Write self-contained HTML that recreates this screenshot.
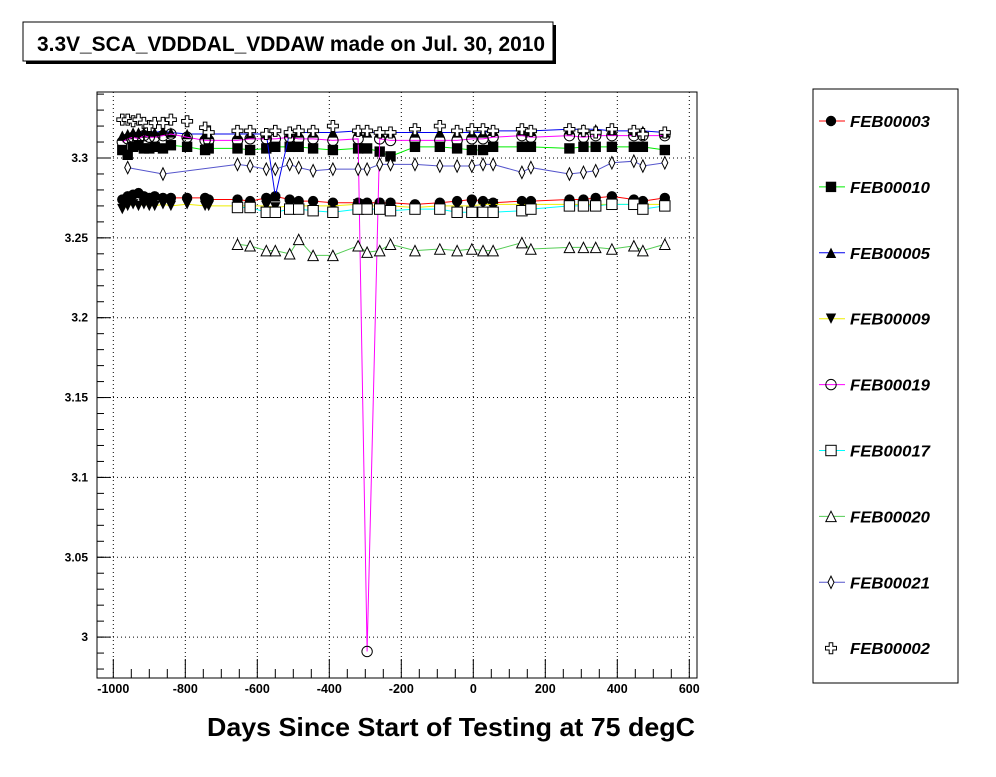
<!DOCTYPE html>
<html><head><meta charset="utf-8">
<style>
body{margin:0;background:#fff;width:996px;height:772px;overflow:hidden;font-family:"Liberation Sans",sans-serif}
</style></head>
<body>
<svg id="chart" width="996" height="772" xmlns="http://www.w3.org/2000/svg" font-family="Liberation Sans, sans-serif">
<rect x="0" y="0" width="996" height="772" fill="#fff"/>
<g>
<rect x="26" y="25" width="530" height="39" fill="#000"/>
<rect x="23" y="22" width="530" height="39" fill="#fff" stroke="#000" stroke-width="1"/>
<text x="37" y="51" font-size="21" font-weight="bold" textLength="508" lengthAdjust="spacingAndGlyphs">3.3V_SCA_VDDDAL_VDDAW made on Jul. 30, 2010</text>
</g>
<rect x="97" y="92" width="600" height="586" fill="none" stroke="#000" stroke-width="1"/>
<g id="grid"></g>
<g id="axes"></g>
<g id="series"></g>
<text x="207" y="736" font-size="26" font-weight="bold" textLength="488" lengthAdjust="spacingAndGlyphs">Days Since Start of Testing at 75 degC</text>
<g id="legend">
<rect x="813" y="89" width="145" height="594" fill="#fff" stroke="#000" stroke-width="1"/>
</g>
</svg>
<script>
const xTicks = [-1000,-800,-600,-400,-200,0,200,400,600];
const yTicks = [3.0,3.05,3.1,3.15,3.2,3.25,3.3];
const yTickLabels = ["3","3.05","3.1","3.15","3.2","3.25","3.3"];
const seriesNames = ["FEB00003","FEB00010","FEB00005","FEB00009","FEB00019","FEB00017","FEB00020","FEB00021","FEB00002"];
const seriesColors = ["#ff0000","#00ee00","#0000ee","#eeee00","#ff00ff","#00ffff","#55cc55","#5555cc","none"];
const seriesMarkers = ["circle","square","tri","tridown","ocircle","osquare","otri","odiamond","cross"];
const days = [-975,-960,-945,-930,-915,-900,-885,-862,-840,-795,-745,-735,-655,-620,-575,-550,-510,-485,-445,-390,-320,-295,-260,-230,-162,-93,-45,-4,27,55,135,160,267,306,340,385,446,471,532];
const v03 = [3.274,3.276,3.277,3.278,3.276,3.275,3.276,3.275,3.275,3.275,3.275,3.274,3.274,3.273,3.275,3.276,3.274,3.273,3.273,3.272,3.272,3.272,3.272,3.272,3.271,3.272,3.273,3.274,3.273,3.272,3.273,3.273,3.274,3.274,3.275,3.276,3.274,3.273,3.275];
const v10 = [3.305,3.302,3.307,3.308,3.306,3.306,3.307,3.306,3.308,3.307,3.305,3.306,3.306,3.305,3.306,3.307,3.307,3.307,3.306,3.305,3.306,3.306,3.304,3.301,3.307,3.307,3.306,3.305,3.305,3.307,3.307,3.307,3.306,3.307,3.307,3.307,3.307,3.307,3.305];
const v05 = [3.314,3.315,3.316,3.316,3.316,3.317,3.316,3.317,3.316,3.315,3.315,3.315,3.315,3.315,3.315,3.276,3.316,3.316,3.316,3.316,3.317,3.316,3.316,3.316,3.316,3.316,3.316,3.316,3.316,3.317,3.317,3.317,3.318,3.318,3.318,3.317,3.317,3.317,3.316];
const v09 = [3.268,3.270,3.271,3.270,3.271,3.270,3.270,3.271,3.270,3.271,3.270,3.270,3.270,3.270,3.270,3.269,3.270,3.270,3.270,3.270,3.271,3.270,3.270,3.270,3.269,3.270,3.270,3.270,3.271,3.271,3.271,3.271,3.271,3.271,3.271,3.271,3.271,3.271,3.271];
const v19 = [3.310,3.312,3.313,3.312,3.314,3.313,3.313,3.314,3.315,3.313,3.311,3.311,3.311,3.312,3.312,3.312,3.313,3.312,3.312,3.311,3.312,2.991,3.312,3.311,3.311,3.311,3.311,3.312,3.312,3.313,3.314,3.313,3.314,3.313,3.314,3.314,3.314,3.314,3.314];
const v17 = [null,null,null,null,null,null,null,null,null,null,null,null,3.269,3.269,3.266,3.266,3.268,3.268,3.267,3.266,3.268,3.268,3.268,3.267,3.268,3.268,3.266,3.266,3.266,3.266,3.267,3.268,3.270,3.270,3.270,3.271,3.271,3.268,3.270];
const v20 = [null,null,null,null,null,null,null,null,null,null,null,null,3.246,3.245,3.242,3.242,3.240,3.249,3.239,3.239,3.245,3.241,3.242,3.246,3.242,3.243,3.242,3.243,3.242,3.242,3.247,3.243,3.244,3.244,3.244,3.243,3.245,3.242,3.246];
const v21 = [null,3.294,null,null,null,null,null,3.290,null,null,null,null,3.296,3.295,3.293,3.293,3.296,3.294,3.292,3.293,3.293,3.293,3.296,3.296,3.296,3.295,3.295,3.295,3.296,3.296,3.291,3.294,3.290,3.291,3.292,3.297,3.298,3.295,3.297];
const v02 = [3.324,3.324,3.323,3.324,3.322,3.320,3.322,3.322,3.324,3.323,3.319,3.316,3.317,3.317,3.315,3.317,3.316,3.317,3.317,3.320,3.317,3.317,3.316,3.316,3.318,3.320,3.317,3.318,3.318,3.317,3.318,3.317,3.318,3.317,3.316,3.318,3.317,3.315,3.316];
const allValues = [v03,v10,v05,v09,v19,v17,v20,v21,v02];

const NS="http://www.w3.org/2000/svg";
function X(d){return 473.3+d*0.36;}
function Y(v){return 158+(3.3-v)*1597;}
function mk(tag,attrs,parent){const e=document.createElementNS(NS,tag);for(const k in attrs)e.setAttribute(k,attrs[k]);parent.appendChild(e);return e;}
const grid=document.getElementById('grid'),axes=document.getElementById('axes'),ser=document.getElementById('series'),leg=document.getElementById('legend');

xTicks.forEach(t=>{
  const x=X(t);
  if(x>97&&x<697){const l=mk('line',{x1:x,x2:x,y1:92,y2:678,stroke:'#000','stroke-dasharray':'1,3'},grid);
  
  }
  mk('line',{x1:x,x2:x,y1:678,y2:659,stroke:'#000'},axes);
  const tx=mk('text',{x:x,y:693,'font-size':12.5,'font-weight':'bold','text-anchor':'middle'},axes);
  tx.textContent=t;
  
  
});
for(let d=-1050;d<=600;d+=50){const x=X(d);if(x>97&&x<697&&d%200!==0)mk('line',{x1:x,x2:x,y1:678,y2:669,stroke:'#000'},axes);}
yTicks.forEach((t,i)=>{
  const y=Y(t);
  const l=mk('line',{x1:97,x2:697,y1:y,y2:y,stroke:'#000','stroke-dasharray':'1,3'},grid);
  
  
  mk('line',{x1:97,x2:111,y1:y,y2:y,stroke:'#000'},axes);
  const tx=mk('text',{x:88,y:y+4,'font-size':12,'font-weight':'bold','text-anchor':'end'},axes);
  tx.textContent=yTickLabels[i];
  
  
});
for(let k=0;k<=36;k++){const v=2.98+k*0.01;const y=Y(v);if(y>92&&y<678)mk('line',{x1:97,x2:104,y1:y,y2:y,stroke:'#000'},axes);}

function marker(type,x,y,g){
  const s=5.2;
  if(type==='circle')mk('circle',{cx:x,cy:y,r:s,fill:'#000'},g);
  else if(type==='ocircle')mk('circle',{cx:x,cy:y,r:s,fill:'none',stroke:'#000'},g);
  else if(type==='square')mk('rect',{x:x-s,y:y-s,width:2*s,height:2*s,fill:'#000'},g);
  else if(type==='osquare')mk('rect',{x:x-s,y:y-s,width:2*s,height:2*s,fill:'#fff',stroke:'#000'},g);
  else if(type==='tri')mk('polygon',{points:`${x},${y-s} ${x-s},${y+s} ${x+s},${y+s}`,fill:'#000'},g);
  else if(type==='tridown')mk('polygon',{points:`${x},${y+s} ${x-s},${y-s} ${x+s},${y-s}`,fill:'#000'},g);
  else if(type==='otri')mk('polygon',{points:`${x},${y-s} ${x-s},${y+s} ${x+s},${y+s}`,fill:'#fff',stroke:'#000'},g);
  else if(type==='odiamond')mk('polygon',{points:`${x},${y-s-1} ${x-3},${y} ${x},${y+s+1} ${x+3},${y}`,fill:'#fff',stroke:'#000'},g);
  else if(type==='cross'){const a=1.8,b=5.5;mk('polygon',{points:`${x-a},${y-b} ${x+a},${y-b} ${x+a},${y-a} ${x+b},${y-a} ${x+b},${y+a} ${x+a},${y+a} ${x+a},${y+b} ${x-a},${y+b} ${x-a},${y+a} ${x-b},${y+a} ${x-b},${y-a} ${x-a},${y-a}`,fill:'#fff',stroke:'#000'},g);}
}

allValues.forEach((vals,si)=>{
  const g=mk('g',{},ser);
  
  
  const pts=[];
  vals.forEach((v,i)=>{if(v!==null)pts.push([X(days[i]),Y(v)]);});
  if(seriesColors[si]!=='none'){
    const pl=mk('polyline',{points:pts.map(p=>p.join(',')).join(' '),fill:'none',stroke:seriesColors[si],'stroke-width':1},g);
    
    
  }
  pts.forEach(p=>marker(seriesMarkers[si],p[0],p[1],g));
});

seriesNames.forEach((n,i)=>{
  const y=121+i*65.9;
  const g=mk('g',{},leg);
  
  
  if(seriesColors[i]!=='none')mk('line',{x1:819,x2:845,y1:y,y2:y,stroke:seriesColors[i]},g);
  marker(seriesMarkers[i],831,y,g);
  const t=mk('text',{x:850,y:y+6,'font-size':16,'font-weight':'bold','font-style':'italic',textLength:80,lengthAdjust:'spacingAndGlyphs'},g);
  t.textContent=n;
});
</script>
</body></html>
